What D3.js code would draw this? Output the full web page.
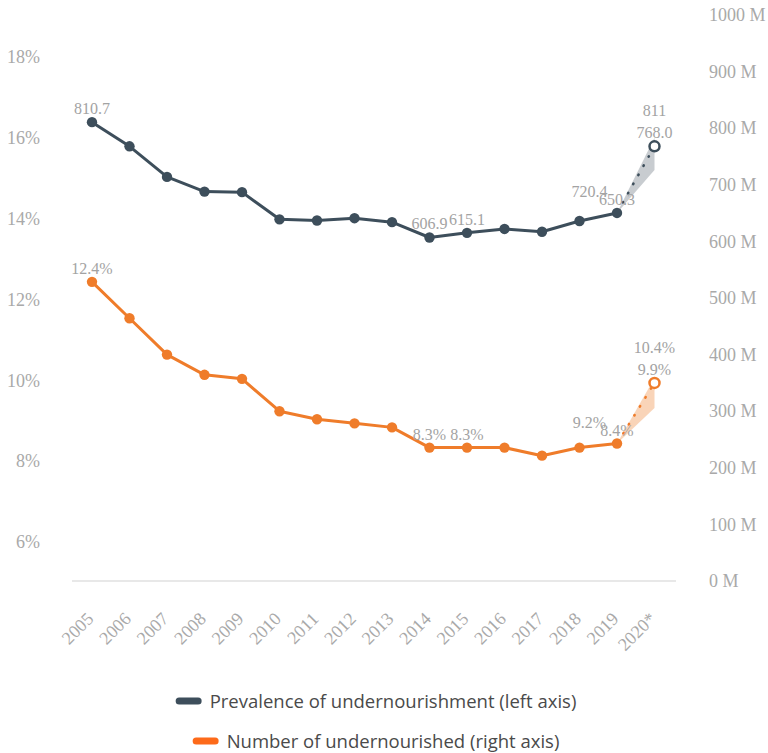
<!DOCTYPE html>
<html>
<head>
<meta charset="utf-8">
<script src="https://cdn.jsdelivr.net/npm/d3@7"></script>
<style>
  html, body { margin: 0; padding: 0; background: #fff; }
  svg { display: block; }
</style>
</head>
<body>
<svg id="chart" width="768" height="753"></svg>
<script>
// ---- data ----
const years = ["2005","2006","2007","2008","2009","2010","2011","2012","2013","2014","2015","2016","2017","2018","2019","2020*"];
// millions (plotted against right axis)
const numberValues = [810.7, 768, 714, 688, 687, 639, 637, 641, 634, 606.9, 615.1, 622, 617, 636, 650.3, 768.0];
// percent (plotted against left axis)
const prevalenceValues = [12.4, 11.5, 10.6, 10.1, 10.0, 9.2, 9.0, 8.9, 8.8, 8.3, 8.3, 8.3, 8.1, 8.3, 8.4, 9.9];
// 2020 projection ranges (band drawn from 2019 to 2020)
const numberBand = [726, 783];
const prevalenceBand = [9.28, 10.02];
const leftTicks = [6, 8, 10, 12, 14, 16, 18];
const rightTicks = [0, 100, 200, 300, 400, 500, 600, 700, 800, 900, 1000];
// labelled points: index -> text
const numberLabels = [[0, "810.7"], [9, "606.9"], [10, "615.1"], [14, "650.3"], [15, "768.0"]];
const prevalenceLabels = [[0, "12.4%"], [9, "8.3%"], [10, "8.3%"], [14, "8.4%"], [15, "9.9%"]];
const numberRangeLabels = ["720.4", "811"];
const prevalenceRangeLabels = ["9.2%", "10.4%"];
const legendItems = ["Prevalence of undernourishment (left axis)", "Number of undernourished (right axis)"];

// ---- styles ----
const grayColor = "#3d4e5b";
const orangeColor = "#ef7c2a";
const legendOrange = "#fd6a1a";
const tickColor = "#a9a9a9";
const labelColor = "#a3a3a3";
const serif = "'Liberation Serif', 'Times New Roman', serif";

const svg = d3.select("#chart");

const x = d3.scalePoint().domain(years).range([92, 654.5]);
const yLeft = d3.scaleLinear().domain([5.0, 19.0]).range([581, 15]);
const yRight = d3.scaleLinear().domain([0, 1000]).range([581, 15]);

// baseline
svg.append("line")
  .attr("x1", 72).attr("x2", 676)
  .attr("y1", yRight(0)).attr("y2", yRight(0))
  .attr("stroke", "#e0e0e0").attr("stroke-width", 1.5);

// left axis
const leftAxis = d3.axisLeft(yLeft).tickValues(leftTicks).tickFormat(d => d + "%").tickSize(0).tickPadding(0);
const gL = svg.append("g").attr("transform", "translate(40,1.5)").call(leftAxis);
gL.select(".domain").remove();
gL.selectAll("text").attr("font-family", serif).attr("font-size", 18).attr("fill", tickColor);

// right axis
const rightAxis = d3.axisRight(yRight).tickValues(rightTicks).tickFormat(d => d + " M").tickSize(0).tickPadding(0);
const gR = svg.append("g").attr("transform", "translate(709,0)").call(rightAxis);
gR.select(".domain").remove();
gR.selectAll("text").attr("font-family", serif).attr("font-size", 18).attr("fill", tickColor);

// x axis labels
const xAxis = d3.axisBottom(x).tickSize(0).tickPadding(0);
const gX = svg.append("g").attr("transform", "translate(0,600)").call(xAxis);
gX.select(".domain").remove();
gX.selectAll("text")
  .attr("font-family", serif).attr("font-size", 18).attr("fill", tickColor)
  .attr("text-anchor", "end")
  .attr("dy", "0")
  .attr("transform", "translate(2,20) rotate(-45)");

function drawSeries(values, band, yScale, color, bandFill) {
  const n = values.length;
  const last = n - 1;
  // band
  const bandData = [
    { x: x(years[last - 1]), lo: yScale(values[last - 1]), hi: yScale(values[last - 1]) },
    { x: x(years[last]), lo: yScale(band[0]), hi: yScale(band[1]) }
  ];
  svg.append("path")
    .datum(bandData)
    .attr("d", d3.area().x(d => d.x).y0(d => d.lo).y1(d => d.hi))
    .attr("fill", bandFill);
  // solid line
  const pts = values.slice(0, last).map((v, i) => [x(years[i]), yScale(v)]);
  svg.append("path")
    .attr("d", d3.line()(pts))
    .attr("fill", "none").attr("stroke", color).attr("stroke-width", 3)
    .attr("stroke-linejoin", "round");
  // dotted projection
  svg.append("path")
    .attr("d", d3.line()([[x(years[last - 1]), yScale(values[last - 1])], [x(years[last]), yScale(values[last])]]))
    .attr("fill", "none").attr("stroke", color).attr("stroke-width", 2.6)
    .attr("stroke-dasharray", "0.5,10").attr("stroke-dashoffset", -12).attr("stroke-linecap", "round");
  // markers
  svg.append("g").selectAll("circle")
    .data(values.slice(0, last))
    .join("circle")
    .attr("cx", (d, i) => x(years[i])).attr("cy", d => yScale(d))
    .attr("r", 5.2).attr("fill", color);
  svg.append("circle")
    .attr("cx", x(years[last])).attr("cy", yScale(values[last]))
    .attr("r", 5).attr("fill", "#fff").attr("stroke", color).attr("stroke-width", 2.5);
}

drawSeries(numberValues, numberBand, yRight, grayColor, "#c8ccd0");
drawSeries(prevalenceValues, prevalenceBand, yLeft, orangeColor, "#f9d4b8");

function drawLabels(values, labels, rangeLabels, yScale) {
  const g = svg.append("g")
    .attr("font-family", serif).attr("font-size", 16).attr("fill", labelColor)
    .attr("text-anchor", "middle");
  labels.forEach(([i, t]) => {
    g.append("text").attr("x", x(years[i])).attr("y", yScale(values[i]) - 8).text(t);
  });
  const last = values.length - 1;
  // low range label (left of the 2020 point)
  g.append("text")
    .attr("x", x(years[last]) - 65)
    .attr("y", yScale(values[last - 1]) - 16)
    .text(rangeLabels[0]);
  // high range label (above 2020 label)
  g.append("text")
    .attr("x", x(years[last]))
    .attr("y", yScale(values[last]) - 30)
    .text(rangeLabels[1]);
}

drawLabels(numberValues, numberLabels, numberRangeLabels, yRight);
drawLabels(prevalenceValues, prevalenceLabels, prevalenceRangeLabels, yLeft);

// legend
const legendColors = [grayColor, legendOrange];
const legendY = [701, 741];
const lg = svg.append("g");
legendItems.forEach((t, i) => {
  const txt = lg.append("text")
    .attr("font-family", "'Open Sans', sans-serif").attr("font-size", 18.5).attr("fill", "#4a4a4a")
    .attr("y", legendY[i] + 6.5).text(t);
  const w = txt.node().getComputedTextLength();
  const total = 26 + 8 + w;
  const start = 376 - total / 2;
  lg.append("rect").attr("x", start).attr("y", legendY[i] - 3.5)
    .attr("width", 26).attr("height", 7).attr("rx", 3.5).attr("fill", legendColors[i]);
  txt.attr("x", start + 34);
});
</script>
</body>
</html>
